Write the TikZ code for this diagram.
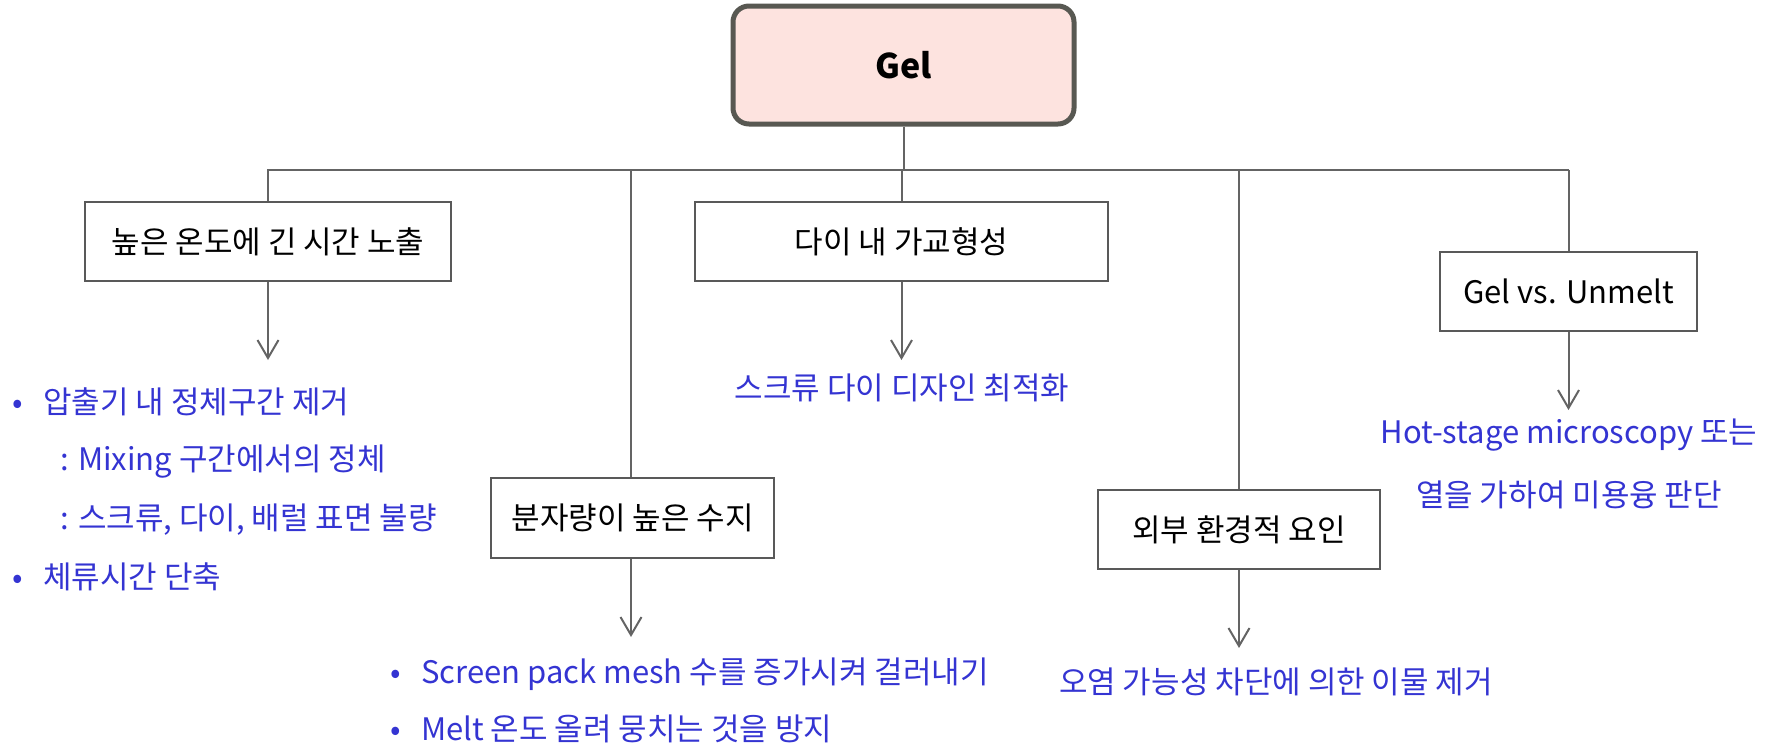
\documentclass[tikz,border=0pt]{standalone}
\usepackage{fontspec}
\setmainfont{Noto Sans CJK KR}
\usetikzlibrary{arrows.meta}
\definecolor{boxline}{RGB}{89,89,89}
\definecolor{connline}{RGB}{100,100,100}
\definecolor{gelfill}{RGB}{253,227,223}
\definecolor{gelline}{RGB}{88,88,82}
\definecolor{note}{RGB}{52,52,210}
\tikzset{
  x=1pt, y=-1pt,
  causebox/.style={draw=boxline, line width=2pt, fill=white, inner sep=0pt,
    font=\fontsize{31}{36}\selectfont},
  rootbox/.style={draw=gelline, line width=5pt, fill=gelfill, rounded corners=16pt,
    inner sep=0pt, minimum width=341pt, minimum height=118pt,
    font=\fontsize{34}{40}\selectfont\bfseries},
  conn/.style={draw=connline, line width=2pt},
  arr/.style={conn, -{Straight Barb[length=18pt,width=21pt,line width=2pt]}},
  notetext/.style={text=note, inner sep=0pt, font=\fontsize{31}{36}\selectfont},
}
\newcommand{\bul}{\makebox[31pt][l]{•}}
\begin{document}
\begin{tikzpicture}
\useasboundingbox (0,0) rectangle (1777,750);

% root
\node[rootbox] (gel) at (903.5,65) {Gel};

% causes
\node[causebox, minimum width=366pt, minimum height=79pt] (b1) at (268,241.5) {높은 온도에 긴 시간 노출};
\node[causebox, minimum width=283pt, minimum height=80pt] (b2) at (632.5,518) {분자량이 높은 수지};
\node[causebox, minimum width=413pt, minimum height=79pt] (b3) at (901.5,241.5) {다이 내 가교형성};
\node[causebox, minimum width=282pt, minimum height=79pt] (b4) at (1239,529.5) {외부 환경적 요인};
\node[causebox, minimum width=257pt, minimum height=79pt] (b5) at (1568.5,291.5) {Gel vs. Unmelt};

% tree connectors
\coordinate (jl) at (267,170);
\coordinate (jr) at (1569,170);
\draw[conn] (jl) -- (jr);
\draw[conn] (gel.south) -- (gel.south |- jl);
\draw[conn] (b1.north |- jl) -- (b1.north);
\draw[conn] (631,170) coordinate (j2) -- (j2 |- b2.north);
\draw[conn] (b3.north |- jl) -- (b3.north);
\draw[conn] (b4.north |- jl) -- (b4.north);
\draw[conn] (b5.north |- jl) -- (b5.north);

% arrow ends
\coordinate (e1) at (268,360);
\coordinate (e2) at (631,637);
\coordinate (e3) at (901.5,360);
\coordinate (e4) at (1239,648);
\coordinate (e5) at (1568.5,410);
\draw[arr] (b1.south) -- (e1);
\draw[arr] (b2.south -| e2) -- (e2);
\draw[arr] (b3.south) -- (e3);
\draw[arr] (b4.south) -- (e4);
\draw[arr] (b5.south) -- (e5);

% remedies
\node[notetext, anchor=west] (r1a) at (12,402) {\bul 압출기 내 정체구간 제거};
\node[notetext, anchor=west] (r1b) at (60,462) {: Mixing 구간에서의 정체};
\node[notetext, anchor=west] (r1c) at (60,520) {: 스크류, 다이, 배럴 표면 불량};
\node[notetext, anchor=west] (r1d) at (12,577) {\bul 체류시간 단축};

\node[notetext, anchor=west] (r2a) at (390,674) {\bul Screen pack mesh 수를 증가시켜 걸러내기};
\node[notetext, anchor=west] (r2b) at (390,729) {\bul Melt 온도 올려 뭉치는 것을 방지};

\node[notetext] (r3) at (902,388) {스크류 다이 디자인 최적화};

\node[notetext] (r4) at (1276,682) {오염 가능성 차단에 의한 이물 제거};

\node[notetext] (r5a) at (1569,435) {Hot-stage microscopy 또는};
\node[notetext] (r5b) at (1569,495) {열을 가하여 미용융 판단};
\end{tikzpicture}
\end{document}
